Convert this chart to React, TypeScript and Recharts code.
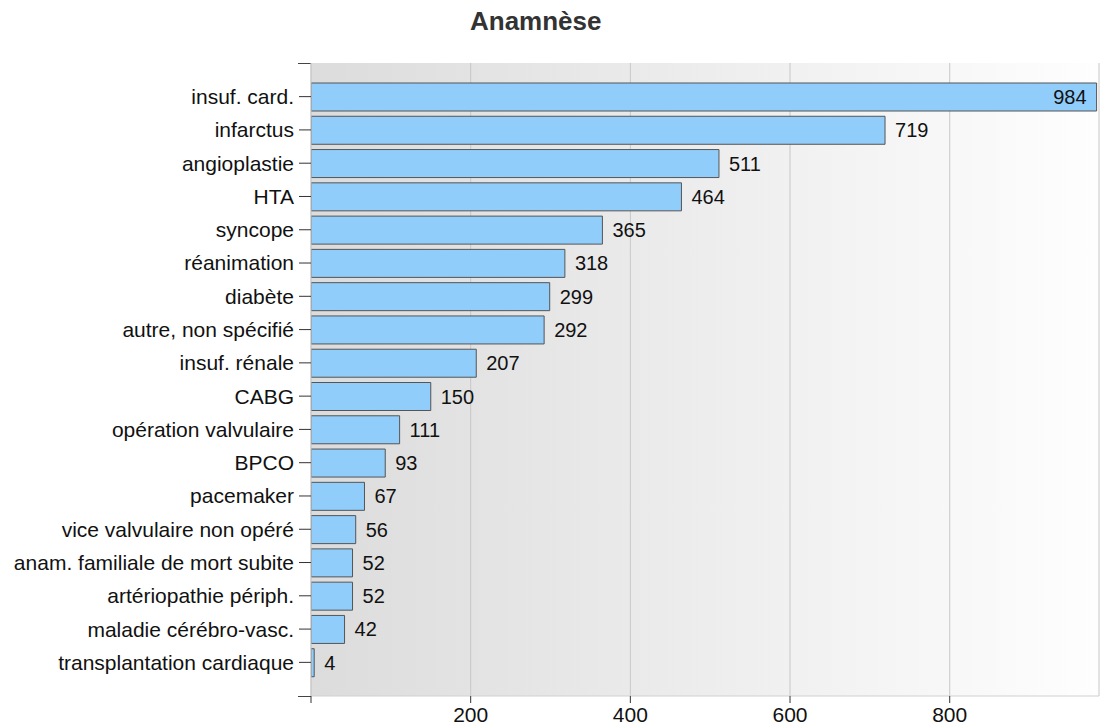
import React from 'react';
import * as R from 'recharts';
import { BarChart, Bar, XAxis, YAxis, CartesianGrid, LabelList } from 'recharts';

const categories = [
  'insuf. card.',
  'infarctus',
  'angioplastie',
  'HTA',
  'syncope',
  'réanimation',
  'diabète',
  'autre, non spécifié',
  'insuf. rénale',
  'CABG',
  'opération valvulaire',
  'BPCO',
  'pacemaker',
  'vice valvulaire non opéré',
  'anam. familiale de mort subite',
  'artériopathie périph.',
  'maladie cérébro-vasc.',
  'transplantation cardiaque',
];
const values = [984, 719, 511, 464, 365, 318, 299, 292, 207, 150, 111, 93, 67, 56, 52, 52, 42, 4];
const xTicks = [0, 200, 400, 600, 800];
const title = 'Anamnèse';

const data = categories.map((name, i) => ({ name, value: values[i] }));

const FONT = '"Liberation Sans", Arial, sans-serif';

const EndTicks = () => {
  const usePlotArea = (R as any).usePlotArea;
  const area = usePlotArea ? usePlotArea() : null;
  if (!area) return null;
  const x = area.x;
  return (
    <g>
      <line x1={x - 13} x2={x} y1={area.y + 0.5} y2={area.y + 0.5} stroke="#444" strokeWidth={1} />
      <line x1={x - 13} x2={x} y1={area.y + area.height + 0.5} y2={area.y + area.height + 0.5} stroke="#444" strokeWidth={1} />
    </g>
  );
};

const renderValueLabel = (props: any) => {
  const { x, y, width, height, value } = props;
  const inside = value >= 900;
  const tx = inside ? x + width - 10 : x + width + 10;
  return (
    <text
      x={tx}
      y={y + height / 2}
      dy={7}
      textAnchor={inside ? 'end' : 'start'}
      fontSize={20}
      fill="#111"
      fontFamily={FONT}
    >
      {value}
    </text>
  );
};

export default function App() {
  return (
    <div style={{ position: 'absolute', left: 0, top: 0, width: 1105, height: 727, background: '#fff', fontFamily: FONT }}>
      <div
        style={{
          position: 'absolute',
          left: 470,
          top: 6,
          fontSize: 26,
          fontWeight: 'bold',
          color: '#333',
          whiteSpace: 'nowrap',
        }}
      >
        {title}
      </div>
      <BarChart
        width={1105}
        height={727}
        data={data}
        layout="vertical"
        margin={{ top: 63, right: 6, bottom: 0, left: 0 }}
        barSize={28}
      >
        <defs>
          <linearGradient id="bgGrad" x1="0" y1="0" x2="1" y2="0">
            <stop offset="0%" stopColor="#dcdcdc" />
            <stop offset="100%" stopColor="#fefefe" />
          </linearGradient>
        </defs>
        <CartesianGrid
          horizontal={false}
          vertical={true}
          stroke="#c8c8c8"
          fill="url(#bgGrad)"
          fillOpacity={1}
        />
        <XAxis
          type="number"
          domain={[0, 987]}
          ticks={xTicks}
          allowDataOverflow
          height={31}
          tickSize={7}
          tickMargin={4}
          tickFormatter={(v: number) => (v === 0 ? '' : String(v))}
          axisLine={{ stroke: '#d0d0d0' }}
          tickLine={{ stroke: '#333' }}
          tick={{ fontSize: 21, fill: '#111', fontFamily: FONT }}
        />
        <YAxis
          type="category"
          dataKey="name"
          width={311}
          interval={0}
          tickSize={12}
          tickMargin={5}
          padding={{ top: 17, bottom: 17 }}
          axisLine={{ stroke: '#c8c8c8' }}
          tickLine={{ stroke: '#333' }}
          tick={{ fontSize: 21, fill: '#111', fontFamily: FONT }}
        />
        <Bar dataKey="value" fill="#90cdfb" stroke="#555" strokeWidth={1} isAnimationActive={false}>
          <LabelList dataKey="value" content={renderValueLabel} />
        </Bar>
        <EndTicks />
      </BarChart>
    </div>
  );
}
